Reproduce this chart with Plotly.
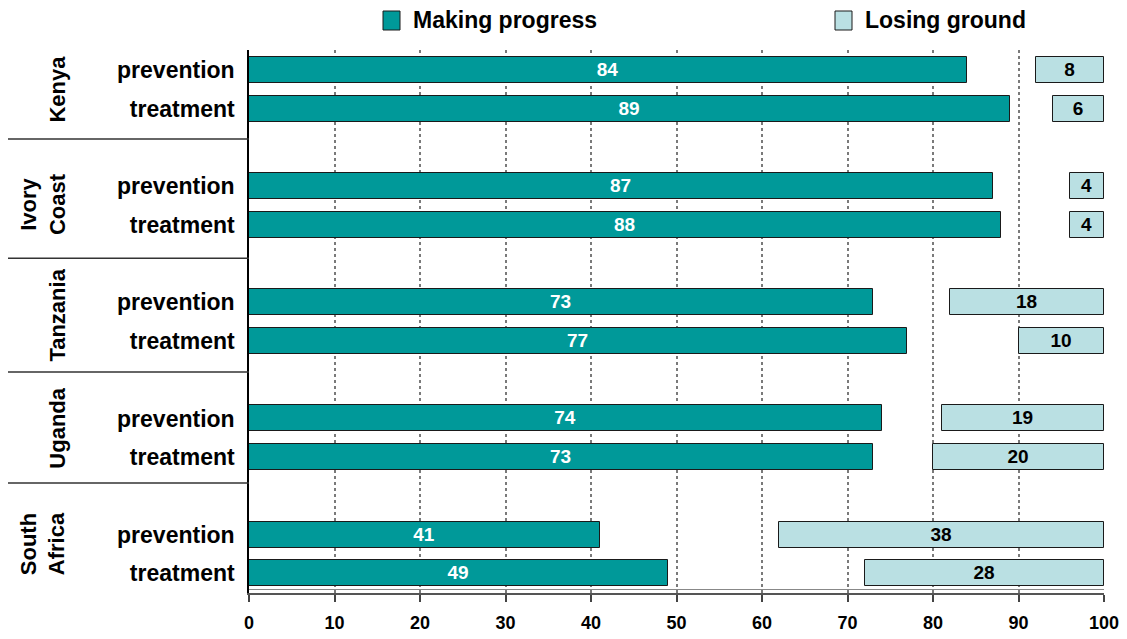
import plotly.graph_objects as go

countries = ["Kenya", "Ivory<br>Coast", "Tanzania", "Uganda", "South<br>Africa"]
measures = ["prevention", "treatment"]
progress_prevention = [84, 87, 73, 74, 41]
progress_treatment = [89, 88, 77, 73, 49]
losing_prevention = [8, 4, 18, 19, 38]
losing_treatment = [6, 4, 10, 20, 28]
x_ticks = [0, 10, 20, 30, 40, 50, 60, 70, 80, 90, 100]

TEAL = "#009999"
LIGHT = "#BAE0E3"
FONT = "Liberation Sans, Arial, sans-serif"

# row positions: two bars per country with a blank slot between groups
ypos, prog, lose, ticktext = [], [], [], []
for g in range(len(countries)):
    for k, (p, l) in enumerate([(progress_prevention[g], losing_prevention[g]),
                                (progress_treatment[g], losing_treatment[g])]):
        ypos.append(g * 3 + k)
        prog.append(p)
        lose.append(l)
        ticktext.append("<b>" + measures[k] + "</b>")

fig = go.Figure()
fig.add_trace(go.Bar(
    y=ypos, x=prog, orientation="h", width=0.67,
    marker=dict(color=TEAL, line=dict(color="#1a1a1a", width=1)),
    text=["<b>%d</b>" % v for v in prog], textposition="inside",
    insidetextanchor="middle", textangle=0, constraintext="none",
    textfont=dict(color="white", size=19, family=FONT),
    name="Making progress", showlegend=False, hoverinfo="x"))
fig.add_trace(go.Bar(
    y=ypos, x=lose, base=[100 - v for v in lose], orientation="h", width=0.67,
    marker=dict(color=LIGHT, line=dict(color="#1a1a1a", width=1)),
    text=["<b>%d</b>" % v for v in lose], textposition="inside",
    insidetextanchor="middle", textangle=0, constraintext="none",
    textfont=dict(color="black", size=19, family=FONT),
    name="Losing ground", showlegend=False, hoverinfo="x"))

L, R, T, B = 249, 23, 50, 46
W, H = 1127, 639
pw, ph = W - L - R, H - T - B

def px_x(p):
    return (p - L) / pw

def px_y(p):
    return (T + ph - p) / ph

shapes = []
annotations = []
# group separators on the left
for yv in [1.78, 4.86, 7.80, 10.67]:
    shapes.append(dict(type="line", xref="paper", yref="y", x0=px_x(8), x1=0,
                       y0=yv, y1=yv, line=dict(color="#333", width=1.5)))
# thin line just above x axis
shapes.append(dict(type="line", xref="paper", yref="paper", x0=0, x1=1,
                   y0=px_y(589.5), y1=px_y(589.5), line=dict(color="#888", width=1)))
# country labels
label_y = [0.49, 3.46, 6.33, 9.25, 12.25]
for c, yv in zip(countries, label_y):
    annotations.append(dict(text="<b>" + c + "</b>", xref="paper", yref="y",
                            x=px_x(72), y=yv, xanchor="right", yanchor="middle",
                            textangle=-90, showarrow=False,
                            font=dict(size=22, family=FONT, color="black")))
# manual legend
for (x0, x1, col, txt, tx) in [(383, 400, TEAL, "Making progress", 411),
                               (835, 852, LIGHT, "Losing ground", 863)]:
    shapes.append(dict(type="rect", xref="paper", yref="paper",
                       x0=px_x(x0), x1=px_x(x1), y0=px_y(30), y1=px_y(11),
                       fillcolor=col, line=dict(color="#1a1a1a", width=1)))
    annotations.append(dict(text="<b>" + txt + "</b>", xref="paper", yref="paper",
                            x=px_x(tx), y=px_y(20.5), xanchor="left", yanchor="middle",
                            showarrow=False,
                            font=dict(size=23, family=FONT, color="black")))

fig.update_layout(
    width=W, height=H, margin=dict(l=L, r=R, t=T, b=B, autoexpand=False),
    paper_bgcolor="white", plot_bgcolor="white",
    barmode="overlay", bargap=0,
    shapes=shapes, annotations=annotations,
    font=dict(family=FONT, color="black"),
    xaxis=dict(range=[0, 100], tickvals=x_ticks, automargin=False,
               ticktext=["<b>%d</b>" % v for v in x_ticks],
               tickfont=dict(size=18, family=FONT, color="black"),
               showgrid=True, gridcolor="#7a7a7a", griddash="dot", gridwidth=1.5,
               showline=True, linecolor="#555", linewidth=2,
               ticks="outside", ticklen=7, tickcolor="#444", tickwidth=1.5,
               zeroline=False, ticklabelstandoff=5),
    yaxis=dict(range=[13.51, -0.52], tickvals=ypos, ticktext=ticktext, automargin=False,
               tickfont=dict(size=23, family=FONT, color="black"),
               showgrid=False, zeroline=False, showline=True,
               linecolor="black", linewidth=1.5, ticks="", ticklabelstandoff=8),
)

fig.write_html("out.html")
